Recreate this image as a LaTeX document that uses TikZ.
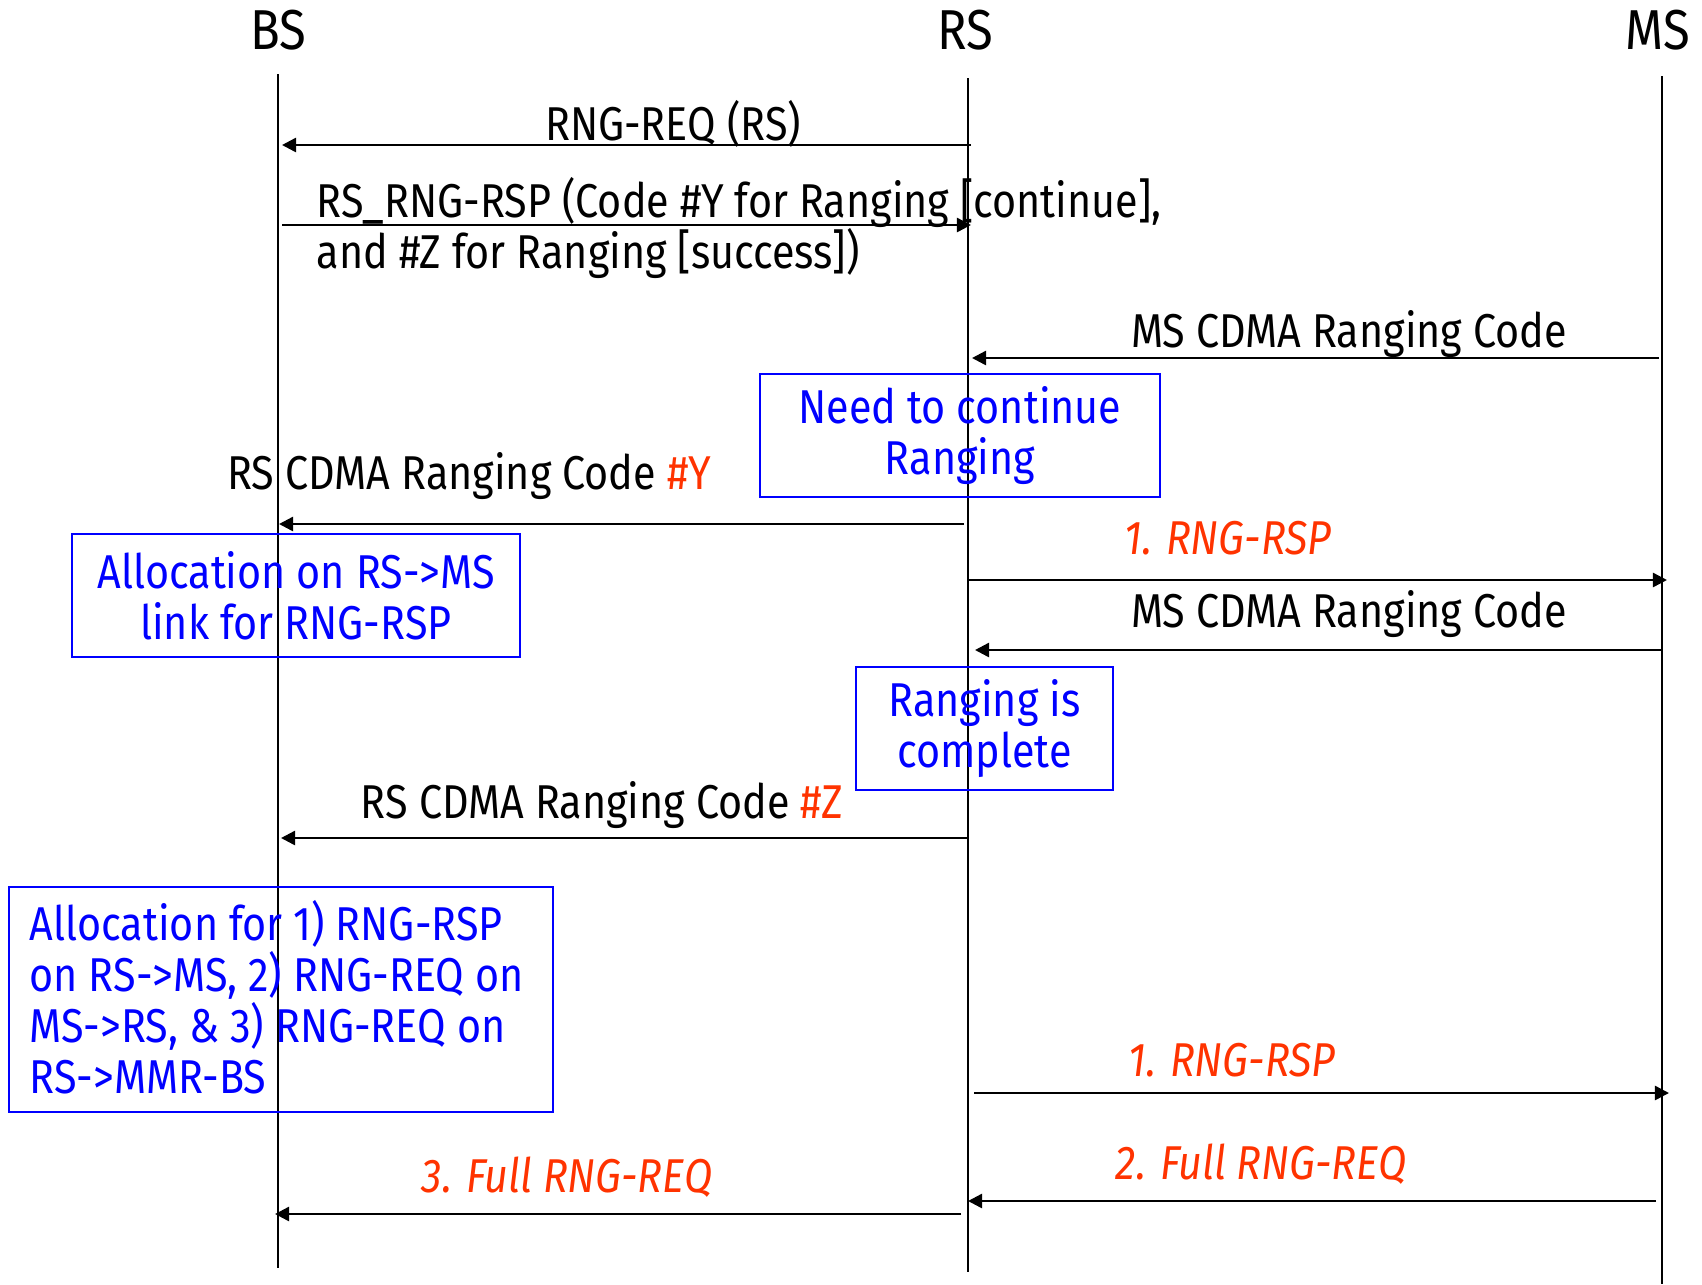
\documentclass[tikz,border=0pt]{standalone}
\usepackage{fontspec}
\setmainfont[FakeStretch=0.87]{Fira Sans}
\usetikzlibrary{positioning,arrows.meta}
\definecolor{msgred}{RGB}{255,51,0}
\tikzstyle{entity} = [inner sep=0pt, font=\fontsize{16}{18}\selectfont]
\tikzstyle{lifeline} = [draw, line width=0.55pt]
\tikzstyle{msg} = [draw, line width=0.7pt, -{Triangle[length=4pt,width=4pt]}]
\tikzstyle{lbl} = [inner sep=0pt]
\tikzstyle{act} = [lbl, text=msgred, font=\fontsize{13.5}{14.5}\selectfont\itshape]
\tikzstyle{note} = [draw=blue, line width=0.6pt, text=blue, align=center, inner sep=0pt]

\begin{document}
\begin{tikzpicture}[x=0.01cm,y=-0.01cm,font=\fontsize{13.5}{14.5}\selectfont]
	\useasboundingbox (0,0) rectangle (1702,1284);

	% entities and their lifelines
	\node (bs) [entity] at (278,30) {BS};
	\node (rs) [entity] at (965,30) {RS};
	\node (ms) [entity] at (1658,30) {MS};
	\coordinate (bs-top) at (278,74);   \coordinate (bs-bot) at (278,1268);
	\coordinate (rs-top) at (968,78);   \coordinate (rs-bot) at (968,1272);
	\coordinate (ms-top) at (1662,76);  \coordinate (ms-bot) at (1662,1284);
	\draw[lifeline] (bs-top) -- (bs-bot);
	\draw[lifeline] (rs-top) -- (rs-bot);
	\draw[lifeline] (ms-top) -- (ms-bot);

	% notes
	\node (cont) [note, minimum width=4cm, minimum height=1.23cm] at (960,435.5)
		{Need to continue\\Ranging};
	\node (alloc1) [note, minimum width=4.48cm, minimum height=1.23cm] at (296,595.5)
		{Allocation on RS->MS\\link for RNG-RSP};
	\node (done) [note, minimum width=2.57cm, minimum height=1.23cm] at (984.5,728.5)
		{Ranging is\\complete};
	\node (alloc2) [note, minimum width=5.44cm, minimum height=2.25cm] at (281,999.5) {};
	\node (alloc2txt) [lbl, text=blue, align=left, anchor=west] at (29,997.5)
		{Allocation for 1) RNG-RSP\\on RS->MS, 2) RNG-REQ on\\MS->RS, \& 3) RNG-REQ on\\RS->MMR-BS};

	% message end points
	\coordinate (m1a) at (971,145);   \coordinate (m1b) at (282,145);
	\coordinate (m2a) at (282,225);   \coordinate (m2b) at (971,225);
	\coordinate (m3a) at (1659,358);  \coordinate (m3b) at (972,358);
	\coordinate (m4a) at (964,524);   \coordinate (m4b) at (279,524);
	\coordinate (m5a) at (969,580);   \coordinate (m5b) at (1667,580);
	\coordinate (m6a) at (1662,650);  \coordinate (m6b) at (975,650);
	\coordinate (m7a) at (967,838);   \coordinate (m7b) at (281,838);
	\coordinate (m8a) at (974,1093);  \coordinate (m8b) at (1669,1093);
	\coordinate (m9a) at (1656,1201); \coordinate (m9b) at (968,1201);
	\coordinate (m10a) at (961,1214); \coordinate (m10b) at (275,1214);

	\draw[msg] (m1a) -- (m1b);
	\draw[msg] (m2a) -- (m2b);
	\draw[msg] (m3a) -- (m3b);
	\draw[msg] (m4a) -- (m4b);
	\draw[msg] (m5a) -- (m5b);
	\draw[msg] (m6a) -- (m6b);
	\draw[msg] (m7a) -- (m7b);
	\draw[msg] (m8a) -- (m8b);
	\draw[msg] (m9a) -- (m9b);
	\draw[msg] (m10a) -- (m10b);

	% message labels
	\node (req) [lbl] at (673,124) {RNG-REQ (RS)};
	\node (rsp) [lbl, align=left, anchor=west] at (316,228)
		{RS\_RNG-RSP (Code \#Y for Ranging [continue],\\and \#Z for Ranging [success])};
	\node (code1) [lbl] at (1349,334) {MS CDMA Ranging Code};
	\node (codey) [lbl] at (469,476) {RS CDMA Ranging Code \textcolor{msgred}{\#Y}};
	\node (rsp1) [act] at (1228,538) {1. RNG-RSP};
	\node (code2) [lbl] at (1349,614) {MS CDMA Ranging Code};
	\node (codez) [lbl] at (602,805) {RS CDMA Ranging Code \textcolor{msgred}{\#Z}};
	\node (rsp2) [act] at (1232,1060) {1. RNG-RSP};
	\node (fullms) [act] at (1261,1164) {2. Full RNG-REQ};
	\node (fullrs) [act] at (567,1177) {3. Full RNG-REQ};
\end{tikzpicture}
\end{document}
